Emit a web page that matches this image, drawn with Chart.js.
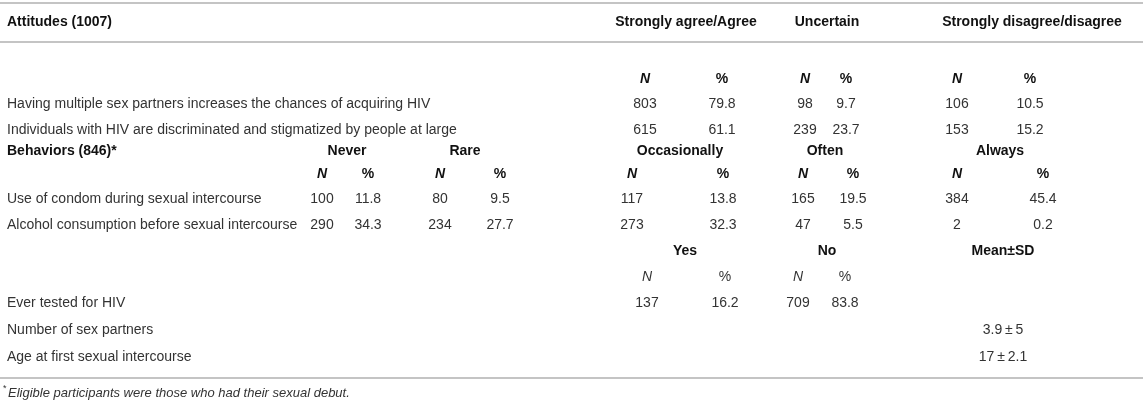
<!DOCTYPE html>
<html>
<head>
<meta charset="utf-8">
<script src="https://cdn.jsdelivr.net/npm/chart.js"></script>
<style>
  html, body { margin: 0; padding: 0; background: #fff; }
  #wrap { width: 1143px; height: 408px; }
</style>
</head>
<body>
<div id="wrap"><canvas id="table" width="1143" height="408"></canvas></div>
<script>
const attitudeTitle = "Attitudes (1007)";
const attitudeCategories = ["Strongly agree/Agree", "Uncertain", "Strongly disagree/disagree"];
const attitudeItems = [
    "Having multiple sex partners increases the chances of acquiring HIV",
    "Individuals with HIV are discriminated and stigmatized by people at large"
];
const attitudeN = [[803, 98, 106], [615, 239, 153]];
const attitudePct = [[79.8, 9.7, 10.5], [61.1, 23.7, 15.2]];

const behaviorTitle = "Behaviors (846)*";
const behaviorCategories = ["Never", "Rare", "Occasionally", "Often", "Always"];
const behaviorItems = [
    "Use of condom during sexual intercourse",
    "Alcohol consumption before sexual intercourse"
];
const behaviorN = [[100, 80, 117, 165, 384], [290, 234, 273, 47, 2]];
const behaviorPct = [[11.8, 9.5, 13.8, 19.5, 45.4], [34.3, 27.7, 32.3, 5.5, 0.2]];

const testedCategories = ["Yes", "No"];
const testedItem = "Ever tested for HIV";
const testedN = [137, 709];
const testedPct = [16.2, 83.8];

const meanHeader = "Mean\u00b1SD";
const meanItems = ["Number of sex partners", "Age at first sexual intercourse"];
const meanValues = [[3.9, 5], [17, 2.1]];

const footnote = "Eligible participants were those who had their sexual debut.";

// ---- layout (x/y in table pixel units) ----
const labelX = 7;
const attColsN = [645, 805, 957];
const attColsPct = [722, 846, 1030];
const attColsHead = [686, 827, 1032];
const behColsN = [322, 440, 632, 803, 957];
const behColsPct = [368, 500, 723, 853, 1043];
const behColsHead = [347, 465, 680, 825, 1000];
const yesColsN = [647, 798];
const yesColsPct = [725, 845];
const yesColsHead = [685, 827];
const meanCol = 1003;
const rowY = {
    attHead: 22, attSub: 79, att: [104, 130],
    behHead: 151, behSub: 174, beh: [199, 225],
    yesHead: 251, yesSub: 277, tested: 303, mean: [330, 357],
    foot: 393
};
const ruleRows = [3, 42, 378];

const FONT = "'Liberation Sans', Arial, Helvetica, sans-serif";
const regular = `14px ${FONT}`;
const bold = `bold 14px ${FONT}`;
const boldItalic = `italic bold 14px ${FONT}`;
const italic = `italic 14px ${FONT}`;
const TEXT = "#333";
const HEAD = "#111";

const cells = [];
function cell(x, y, text, font, align, color) {
    cells.push({ x, y, text, font: font || regular, align: align || "center", color: color || TEXT });
}
const fmt = v => v.toFixed(1);

// attitudes block
cell(labelX, rowY.attHead, attitudeTitle, bold, "left", HEAD);
attitudeCategories.forEach((c, j) => {
    cell(attColsHead[j], rowY.attHead, c, bold, "center", HEAD);
    cell(attColsN[j], rowY.attSub, "N", boldItalic, "center", HEAD);
    cell(attColsPct[j], rowY.attSub, "%", bold, "center", HEAD);
});
attitudeItems.forEach((item, i) => {
    cell(labelX, rowY.att[i], item, regular, "left");
    attitudeN[i].forEach((n, j) => {
        cell(attColsN[j], rowY.att[i], String(n));
        cell(attColsPct[j], rowY.att[i], fmt(attitudePct[i][j]));
    });
});

// behaviors block
cell(labelX, rowY.behHead, behaviorTitle, bold, "left", HEAD);
behaviorCategories.forEach((c, j) => {
    cell(behColsHead[j], rowY.behHead, c, bold, "center", HEAD);
    cell(behColsN[j], rowY.behSub, "N", boldItalic, "center", HEAD);
    cell(behColsPct[j], rowY.behSub, "%", bold, "center", HEAD);
});
behaviorItems.forEach((item, i) => {
    cell(labelX, rowY.beh[i], item, regular, "left");
    behaviorN[i].forEach((n, j) => {
        cell(behColsN[j], rowY.beh[i], String(n));
        cell(behColsPct[j], rowY.beh[i], fmt(behaviorPct[i][j]));
    });
});

// tested / mean block
testedCategories.forEach((c, j) => {
    cell(yesColsHead[j], rowY.yesHead, c, bold, "center", HEAD);
    cell(yesColsN[j], rowY.yesSub, "N", italic, "center");
    cell(yesColsPct[j], rowY.yesSub, "%", regular, "center");
    cell(yesColsN[j], rowY.tested, String(testedN[j]));
    cell(yesColsPct[j], rowY.tested, fmt(testedPct[j]));
});
cell(meanCol, rowY.yesHead, meanHeader, bold, "center", HEAD);
cell(labelX, rowY.tested, testedItem, regular, "left");
meanItems.forEach((item, i) => {
    cell(labelX, rowY.mean[i], item, regular, "left");
    cell(meanCol, rowY.mean[i], `${meanValues[i][0]}\u2009\u00b1\u2009${meanValues[i][1]}`);
});

// footnote
cell(3, rowY.foot - 4, "*", `9px ${FONT}`, "left");
cell(8, rowY.foot, footnote, `italic 13px ${FONT}`, "left");

// draws the text of each cell at the point the scales placed it
const cellText = {
    id: "cellText",
    afterDatasetsDraw(chart) {
        const ctx = chart.ctx;
        const meta = chart.getDatasetMeta(0);
        ctx.save();
        ctx.textBaseline = "middle";
        meta.data.forEach((pt, i) => {
            const c = cells[i];
            ctx.font = c.font;
            ctx.fillStyle = c.color;
            ctx.textAlign = c.align;
            ctx.fillText(c.text, pt.x, pt.y);
        });
        ctx.restore();
    }
};

new Chart(document.getElementById("table").getContext("2d"), {
    type: "scatter",
    data: {
        datasets: [{
            data: cells.map(c => ({ x: c.x, y: c.y })),
            pointRadius: 0,
            pointHoverRadius: 0
        }]
    },
    options: {
        responsive: false,
        animation: false,
        events: [],
        layout: { padding: 0 },
        plugins: { legend: { display: false }, tooltip: { enabled: false } },
        scales: {
            x: { type: "linear", min: 0, max: 1143, display: false },
            y: {
                type: "linear", min: 0, max: 408, reverse: true,
                afterBuildTicks: scale => { scale.ticks = ruleRows.map(v => ({ value: v })); },
                ticks: { display: false, padding: 0 },
                border: { display: false },
                grid: { color: "#c4c4c4", lineWidth: 2, drawTicks: false, tickLength: 0 }
            }
        }
    },
    plugins: [cellText]
});
</script>
</body>
</html>
